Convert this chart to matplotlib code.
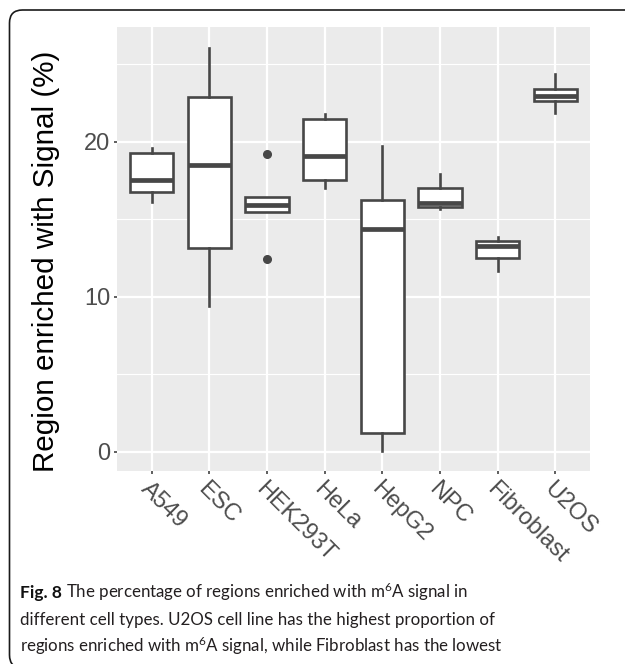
import matplotlib
matplotlib.use('Agg')
import matplotlib.pyplot as plt
from matplotlib.patches import FancyBboxPatch
from matplotlib.transforms import IdentityTransform

# box statistics (percent)
cells = ['A549', 'ESC', 'HEK293T', 'HeLa', 'HepG2', 'NPC', 'Fibroblast', 'U2OS']
whis_lo = [16.1, 9.4, 15.46, 17.0, 0.05, 15.64, 11.66, 21.83]
q1 = [16.77, 13.12, 15.46, 17.53, 1.23, 15.77, 12.48, 22.6]
median = [17.53, 18.5, 15.92, 19.1, 14.37, 16.03, 13.27, 22.98]
q3 = [19.25, 22.86, 16.41, 21.46, 16.24, 16.99, 13.61, 23.42]
whis_hi = [19.57, 26.06, 16.41, 21.77, 19.74, 17.92, 13.87, 24.36]
outliers = [[], [], [12.43, 19.21], [], [], [], [], []]

caption = ['The percentage of regions enriched with m$^6$A signal in',
           'different cell types. U2OS cell line has the highest proportion of',
           'regions enriched with m$^6$A signal, while Fibroblast has the lowest']

W, H = 625, 664
plt.rcParams['mathtext.fontset'] = 'custom'
plt.rcParams['mathtext.rm'] = 'Lato'
plt.rcParams['mathtext.it'] = 'Lato:italic'
plt.rcParams['mathtext.bf'] = 'Lato:bold'

fig = plt.figure(figsize=(W / 100, H / 100), dpi=100)
fig.patch.set_facecolor('white')

ax = fig.add_axes([117 / W, 1 - 471 / H, (590 - 117) / W, (471 - 26.7) / H])
ax.set_facecolor('#EBEBEB')
for s in ax.spines.values():
    s.set_visible(False)

stats = []
for i in range(len(cells)):
    stats.append({'label': cells[i], 'whislo': whis_lo[i], 'q1': q1[i], 'med': median[i],
                  'q3': q3[i], 'whishi': whis_hi[i], 'fliers': outliers[i]})

line_col = '#474747'
ax.bxp(stats, positions=range(1, len(cells) + 1), widths=0.75, showcaps=False,
       patch_artist=True,
       boxprops=dict(facecolor='white', edgecolor=line_col, linewidth=1.9),
       medianprops=dict(color=line_col, linewidth=3.4, solid_capstyle='butt'),
       whiskerprops=dict(color=line_col, linewidth=1.9),
       flierprops=dict(marker='o', markersize=5.5, markerfacecolor=line_col,
                       markeredgecolor=line_col),
       zorder=3)

ax.set_xlim(0.4, len(cells) + 0.6)
ax.set_ylim(-1.245, 27.42)
ax.set_yticks([0, 10, 20])
ax.set_yticks([5, 15, 25], minor=True)
ax.set_xticks(range(1, len(cells) + 1))
ax.set_xticklabels(cells, rotation=-45, ha='left', va='top', rotation_mode='anchor')
ax.grid(which='major', color='white', linewidth=1.6, zorder=0)
ax.grid(which='minor', axis='y', color='white', linewidth=0.8, zorder=0)
ax.set_axisbelow(True)
ax.tick_params(which='major', length=2.3, width=1.1, color='#333333', pad=2.5,
               labelsize=17, labelcolor='#4D4D4D')
ax.tick_params(which='minor', length=0)
for lab in ax.get_xticklabels() + ax.get_yticklabels():
    lab.set_family(['Liberation Sans', 'DejaVu Sans'])

fig.text(46 / W, 1 - 261 / H, 'Region enriched with Signal (%)', rotation=90,
         ha='center', va='center', fontsize=21.3, color='black',
         family=['Liberation Sans', 'DejaVu Sans'])

# rounded frame around the figure
frame = FancyBboxPatch((9.5, -4), 660, H - 10 + 4,
                       boxstyle='round,pad=0,rounding_size=13',
                       transform=IdentityTransform(), facecolor='none',
                       edgecolor='#1a1a1a', linewidth=1.2)
fig.patches.append(frame)

# caption, sized so the last line spans about 480 px
cap_font = ['Lato', 'DejaVu Sans']
cap_col = '#231F20'
renderer = fig.canvas.get_renderer()
probe = fig.text(0, 0, caption[2], fontsize=12, family=cap_font)
cap_size = 12 * 480 / probe.get_window_extent(renderer).width
probe.remove()

x0 = 20 / W
baselines = [598, 625, 652]
t = fig.text(x0, 1 - baselines[0] / H, 'Fig. 8', fontsize=cap_size * 1.03,
             fontweight='bold', family=cap_font, color='#111111', va='baseline')
bb = t.get_window_extent(renderer)
fig.text((bb.x1 + 4) / W, 1 - baselines[0] / H, caption[0],
         fontsize=cap_size, family=cap_font, color=cap_col, va='baseline')
for k in (1, 2):
    fig.text(x0, 1 - baselines[k] / H, caption[k],
             fontsize=cap_size, family=cap_font, color=cap_col, va='baseline')

fig.savefig('out.png', dpi=100)
